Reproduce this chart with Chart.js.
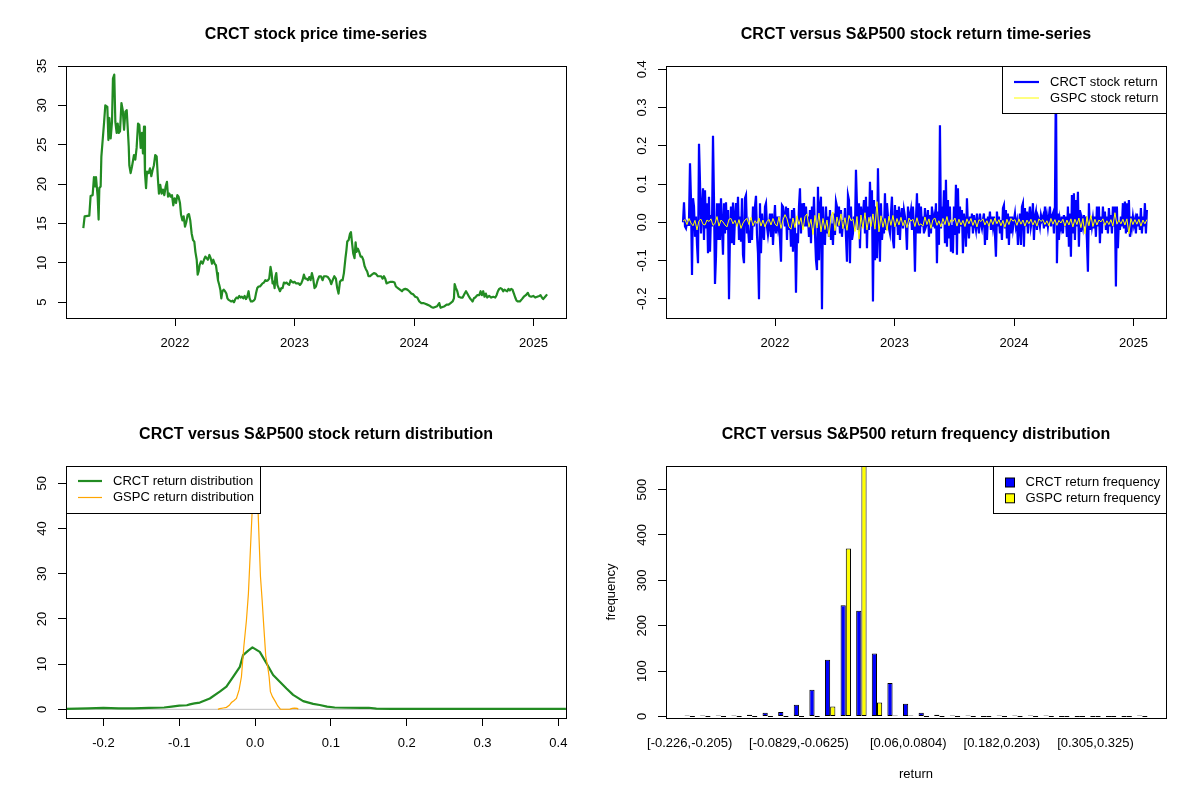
<!DOCTYPE html>
<html>
<head>
<meta charset="utf-8">
<title>CRCT versus S&amp;P500</title>
<script src="https://cdn.jsdelivr.net/npm/chart.js@4.4.1/dist/chart.umd.min.js"></script>
<style>
  html, body { margin: 0; padding: 0; background: #fff; }
  #wrap { position: relative; width: 1200px; height: 800px; background: #fff; }
  #wrap div { position: absolute; width: 600px; height: 400px; }
  canvas { display: block; }
</style>
</head>
<body>
<div id="wrap">
  <div style="left:0;top:0"><canvas id="priceChart" width="600" height="400"></canvas></div>
  <div style="left:600px;top:0"><canvas id="returnChart" width="600" height="400"></canvas></div>
  <div style="left:0;top:400px"><canvas id="densityChart" width="600" height="400"></canvas></div>
  <div style="left:600px;top:400px"><canvas id="freqChart" width="600" height="400"></canvas></div>
</div>
<script>
// ---- data ----

// CRCT closing price (decimal year, USD)
const priceYear = [2021.232,2021.243,2021.282,2021.293,2021.310,2021.321,2021.332,2021.338,2021.352,2021.360,
  2021.366,2021.377,2021.383,2021.394,2021.405,2021.416,2021.433,2021.442,2021.450,2021.461,
  2021.472,2021.480,2021.491,2021.500,2021.511,2021.520,2021.528,2021.539,2021.551,2021.562,
  2021.573,2021.584,2021.595,2021.603,2021.612,2021.617,2021.628,2021.639,2021.656,2021.667,
  2021.678,2021.690,2021.701,2021.712,2021.723,2021.731,2021.740,2021.748,2021.757,2021.765,
  2021.779,2021.790,2021.801,2021.812,2021.823,2021.834,2021.846,2021.857,2021.865,2021.876,
  2021.887,2021.898,2021.910,2021.921,2021.932,2021.941,2021.951,2021.963,2021.974,2021.985,
  2021.996,2022.008,2022.019,2022.029,2022.041,2022.050,2022.061,2022.072,2022.083,2022.094,
  2022.105,2022.116,2022.127,2022.139,2022.150,2022.161,2022.170,2022.181,2022.189,2022.197,
  2022.205,2022.217,2022.231,2022.242,2022.253,2022.264,2022.275,2022.287,2022.298,2022.309,
  2022.320,2022.331,2022.342,2022.351,2022.359,2022.370,2022.379,2022.387,2022.396,2022.407,
  2022.418,2022.429,2022.438,2022.448,2022.459,2022.470,2022.482,2022.493,2022.504,2022.515,
  2022.526,2022.537,2022.548,2022.559,2022.571,2022.582,2022.593,2022.604,2022.615,2022.624,
  2022.635,2022.646,2022.657,2022.668,2022.677,2022.688,2022.699,2022.710,2022.721,2022.732,
  2022.744,2022.755,2022.766,2022.777,2022.788,2022.799,2022.808,2022.816,2022.825,2022.833,
  2022.839,2022.847,2022.856,2022.867,2022.878,2022.889,2022.900,2022.911,2022.922,2022.933,
  2022.944,2022.955,2022.967,2022.978,2022.989,2023.000,2023.011,2023.022,2023.033,2023.045,
  2023.056,2023.067,2023.078,2023.089,2023.100,2023.112,2023.123,2023.134,2023.145,2023.156,
  2023.167,2023.179,2023.193,2023.207,2023.221,2023.235,2023.246,2023.263,2023.279,2023.296,
  2023.307,2023.319,2023.333,2023.346,2023.357,2023.368,2023.380,2023.391,2023.402,2023.413,
  2023.426,2023.434,2023.441,2023.453,2023.464,2023.472,2023.480,2023.491,2023.502,2023.511,
  2023.519,2023.530,2023.541,2023.553,2023.564,2023.575,2023.586,2023.597,2023.608,2023.619,
  2023.630,2023.647,2023.664,2023.681,2023.697,2023.708,2023.725,2023.737,2023.748,2023.759,
  2023.770,2023.787,2023.804,2023.820,2023.837,2023.848,2023.865,2023.882,2023.899,2023.910,
  2023.927,2023.944,2023.960,2023.977,2023.994,2024.010,2024.027,2024.044,2024.061,2024.077,
  2024.094,2024.111,2024.127,2024.144,2024.161,2024.177,2024.194,2024.211,2024.222,2024.239,
  2024.256,2024.273,2024.289,2024.306,2024.323,2024.334,2024.340,2024.351,2024.362,2024.373,
  2024.390,2024.407,2024.424,2024.435,2024.446,2024.457,2024.468,2024.479,2024.490,2024.501,
  2024.512,2024.529,2024.546,2024.557,2024.568,2024.579,2024.590,2024.601,2024.613,2024.629,
  2024.646,2024.663,2024.680,2024.691,2024.702,2024.713,2024.724,2024.735,2024.746,2024.757,
  2024.768,2024.780,2024.791,2024.802,2024.813,2024.824,2024.836,2024.847,2024.858,2024.869,
  2024.886,2024.903,2024.919,2024.936,2024.953,2024.964,2024.981,2024.998,2025.014,2025.031,
  2025.048,2025.059,2025.070,2025.081,2025.092,2025.103,2025.114];
const priceClose = [14.4,15.9,16.0,18.5,18.6,20.9,19.7,20.9,18.4,15.5,
  19.5,19.7,23.5,25.6,27.7,30.0,29.8,25.6,28.4,25.8,
  27.9,33.4,33.9,27.9,26.5,27.7,26.5,26.7,30.3,29.4,
  26.9,29.2,29.4,27.3,24.8,22.4,21.4,22.2,23.7,23.1,
  24.6,27.7,27.5,24.6,26.5,23.9,27.3,21.4,19.5,21.6,
  21.4,22.0,21.0,21.8,22.4,23.7,23.5,20.5,18.8,19.9,
  18.8,19.3,18.6,19.7,20.3,18.4,18.8,18.4,18.6,17.3,
  18.2,17.6,18.6,18.4,17.6,16.1,15.4,15.9,14.6,15.2,
  16.1,16.2,15.4,13.7,12.9,12.7,11.4,10.4,8.5,8.9,
  9.7,10.2,9.9,10.4,10.8,10.6,10.4,11.0,10.6,9.9,
  10.4,9.9,9.7,8.7,7.8,7.2,6.6,5.5,6.4,6.6,
  6.4,6.1,5.5,5.3,5.2,5.1,5.2,5.0,5.4,5.6,
  5.5,5.8,5.6,5.7,5.5,5.8,5.4,5.7,6.4,5.5,
  5.1,5.1,5.2,5.4,6.1,6.8,7.0,7.0,7.2,7.4,
  7.5,7.8,7.7,7.8,8.0,9.5,8.7,7.4,7.6,6.8,
  8.2,8.7,7.2,6.8,6.4,6.8,6.8,7.5,7.4,7.5,
  7.3,7.2,7.8,7.6,7.5,7.6,7.4,7.4,7.4,7.2,
  7.4,7.8,8.5,8.0,8.0,7.8,8.2,7.8,8.7,8.0,
  6.8,7.0,7.8,8.3,8.3,7.8,8.3,8.3,8.2,7.8,
  7.3,7.8,8.3,8.0,6.8,6.1,7.6,7.8,7.8,8.7,
  10.6,11.6,12.7,12.9,13.7,13.9,12.7,11.2,10.6,12.6,
  11.4,11.8,11.4,10.8,10.8,10.4,9.6,9.2,8.9,8.3,
  8.3,8.5,8.7,8.6,8.3,8.3,8.3,8.0,8.3,8.0,
  7.4,7.5,7.6,7.6,7.5,7.0,6.8,6.6,6.4,6.6,
  6.7,6.6,6.4,6.1,6.0,5.7,5.6,5.1,4.9,4.9,
  4.8,4.7,4.6,4.4,4.3,4.4,4.5,4.9,4.3,4.4,
  4.5,4.7,4.7,4.9,5.1,5.5,7.3,6.8,6.4,5.7,
  5.6,5.6,6.1,6.4,6.1,5.8,5.5,5.3,5.1,5.5,
  5.6,5.9,5.9,6.4,5.9,6.4,5.7,6.1,5.6,5.8,
  5.6,5.7,5.6,5.9,6.4,6.7,6.8,6.7,6.4,6.6,
  6.5,6.4,6.7,6.5,6.7,6.6,6.1,5.6,5.2,5.1,
  5.1,5.4,5.7,5.9,6.2,5.8,5.7,5.8,5.6,5.7,
  5.8,5.9,5.6,5.4,5.6,5.8,6.0];

// daily returns, sampled at a regular interval from the start date
const retStartYear = 2021.2293;
const crctStepYears = 0.0083682;
const gspcStepYears = 0.0167364;
const crctReturn = [0.000,0.052,-0.011,-0.016,-0.001,-0.007,0.006,0.154,0.058,-0.138,
  0.063,0.041,-0.038,0.015,-0.059,-0.107,0.205,0.106,-0.029,0.032,
  0.089,-0.046,0.084,-0.016,0.050,-0.081,0.067,-0.077,0.019,-0.011,
  0.226,0.058,-0.161,-0.090,0.050,-0.046,0.050,-0.046,0.063,-0.011,
  -0.085,0.050,-0.029,0.052,-0.020,0.032,-0.201,-0.029,0.041,-0.055,
  0.052,-0.059,0.015,0.050,-0.007,0.067,-0.046,0.015,-0.051,0.063,
  -0.085,-0.107,0.063,0.071,-0.029,-0.011,-0.051,-0.051,0.006,-0.046,
  0.041,-0.011,0.041,0.069,-0.033,-0.081,-0.201,0.050,-0.081,0.023,
  -0.029,-0.046,0.041,0.050,-0.011,-0.033,-0.011,0.023,-0.038,0.023,
  -0.059,-0.003,0.045,-0.029,0.015,-0.011,0.015,-0.046,-0.103,0.045,
  0.041,0.015,-0.011,0.041,-0.046,0.037,-0.020,0.010,-0.064,0.032,
  -0.077,0.037,-0.016,-0.184,-0.029,-0.055,0.041,0.089,-0.029,0.050,
  -0.011,0.050,-0.011,0.041,-0.011,0.015,-0.038,0.032,-0.055,0.041,
  -0.016,0.067,-0.029,-0.099,-0.125,0.093,-0.099,0.041,0.067,-0.227,
  0.041,-0.038,-0.059,0.041,-0.029,0.015,-0.038,0.032,-0.046,-0.003,
  -0.059,0.023,-0.033,0.054,0.041,-0.011,0.041,-0.029,0.032,-0.038,
  0.006,-0.016,0.037,-0.038,-0.103,0.071,0.058,-0.107,0.041,-0.046,
  -0.029,0.015,-0.016,0.137,0.045,-0.020,0.050,-0.068,0.041,-0.011,
  0.019,0.058,-0.029,0.067,-0.068,0.041,-0.020,0.106,0.015,0.084,
  -0.207,0.058,-0.099,0.041,-0.094,0.141,-0.011,-0.103,0.050,-0.046,
  -0.011,-0.029,0.076,-0.020,0.050,0.015,-0.016,-0.029,0.023,0.067,
  -0.046,-0.068,0.045,-0.011,0.032,-0.033,0.041,-0.046,0.015,0.037,
  -0.016,0.032,0.015,-0.011,-0.072,0.041,0.006,0.015,0.032,-0.020,
  0.041,-0.011,-0.129,
  0.006,0.076,-0.029,0.050,-0.029,0.041,-0.011,0.015,-0.029,0.037,
  -0.011,-0.003,0.032,-0.038,0.019,-0.029,0.041,-0.011,0.010,-0.016,
  0.050,-0.107,0.028,-0.059,0.254,-0.016,0.041,-0.003,0.084,-0.055,
  0.111,-0.064,0.058,-0.042,0.041,-0.077,-0.007,-0.081,0.041,-0.033,
  0.098,-0.085,0.089,-0.029,0.041,-0.011,0.032,-0.081,0.023,-0.003,
  -0.064,0.063,-0.011,-0.042,0.015,-0.011,0.023,-0.029,0.019,-0.003,
  -0.020,0.023,-0.007,-0.029,0.023,-0.003,-0.016,0.006,0.023,-0.059,
  0.010,-0.046,0.015,-0.007,0.028,-0.020,0.015,-0.011,0.015,-0.029,
  -0.090,0.028,-0.011,0.015,-0.029,0.006,-0.046,0.037,0.045,-0.016,
  0.032,-0.042,0.023,-0.059,0.015,-0.029,0.015,-0.016,0.006,0.023,
  -0.011,0.002,-0.059,-0.011,0.023,-0.059,0.041,0.050,-0.064,0.037,
  -0.011,0.028,-0.029,0.015,0.041,-0.011,0.006,0.050,-0.046,0.015,
  0.028,-0.020,0.015,0.006,-0.011,0.019,0.006,0.015,-0.016,0.041,
  -0.011,0.015,-0.011,0.015,0.041,-0.011,0.015,0.023,-0.029,0.041,
  0.386,-0.107,0.023,-0.046,0.006,-0.011,0.015,-0.029,0.019,-0.011,
  0.015,-0.038,0.041,-0.064,0.023,-0.090,0.071,-0.029,0.076,-0.046,
  0.058,-0.011,0.080,-0.064,0.032,-0.025,0.006,-0.011,0.019,-0.011,
  0.015,-0.046,-0.129,0.050,-0.020,0.015,-0.011,0.010,-0.016,0.015,
  -0.038,0.041,-0.011,0.041,-0.055,0.015,-0.029,0.041,-0.003,0.028,
  -0.020,0.015,-0.029,0.037,-0.011,0.019,-0.029,0.041,-0.011,0.041,
  -0.168,0.041,-0.068,0.006,-0.020,0.015,-0.011,0.050,-0.016,0.054,
  -0.029,0.050,-0.025,0.058,-0.038,0.015,-0.011,0.015,-0.007,0.006,
  -0.029,0.023,-0.011,0.015,-0.020,0.037,-0.029,0.015,-0.011,0.050,
  -0.029,0.032];
const gspcReturn = [0.003,0.007,-0.006,0.010,-0.002,-0.009,0.005,-0.020,0.004,0.008,
  -0.005,-0.007,0.006,0.002,0.009,-0.008,-0.003,0.015,-0.010,0.006,
  0.001,-0.007,-0.012,0.008,0.010,-0.004,0.005,-0.011,0.007,-0.016,
  -0.002,0.006,0.010,-0.006,0.013,-0.009,0.004,-0.003,0.011,-0.010,
  0.006,-0.012,0.002,0.008,-0.007,0.010,-0.004,
  -0.010,0.014,-0.016,0.006,0.020,0.009,-0.012,-0.018,0.011,-0.014,
  0.017,-0.006,0.012,-0.020,0.015,0.022,-0.013,0.008,-0.032,0.018,
  -0.015,0.024,-0.025,0.010,-0.019,0.006,-0.038,0.016,0.027,-0.022,
  0.014,-0.009,0.022,-0.017,0.012,-0.021,0.018,0.004,0.009,-0.024,
  0.015,-0.044,0.019,-0.016,0.025,-0.020,0.013,-0.011,0.022,-0.018,
  0.054,-0.025,0.017,-0.013,0.010,-0.022,0.016,-0.008,0.018,-0.012,
  0.010,-0.007,0.013,-0.009,0.006,-0.014,0.011,0.003,0.008,-0.011,
  0.012,-0.008,-0.004,-0.010,0.014,-0.006,0.009,-0.016,0.007,0.011,
  -0.008,0.004,-0.012,0.010,-0.006,0.015,-0.009,0.007,0.002,0.011,
  -0.010,0.008,-0.007,0.005,-0.011,0.009,-0.004,0.010,-0.008,0.006,
  -0.012,0.007,0.002,0.009,-0.007,0.004,-0.010,0.008,-0.006,0.011,
  -0.004,0.007,-0.009,0.005,-0.013,0.008,-0.006,0.010,0.003,0.007,
  -0.008,0.009,-0.005,0.006,-0.010,
  0.006,-0.004,0.008,-0.007,0.005,-0.010,0.009,0.002,0.007,-0.006,
  0.004,-0.009,0.010,-0.005,0.007,-0.008,0.005,-0.002,0.008,-0.010,
  0.006,-0.007,0.009,-0.012,0.008,-0.006,0.011,-0.014,0.010,-0.030,
  0.015,-0.009,0.018,-0.011,0.008,-0.007,0.006,0.001,0.009,-0.008,
  0.004,-0.006,0.007,-0.010,0.025,-0.005,0.006,-0.004,0.008,-0.007,
  0.009,-0.030,0.010,-0.006,0.007,-0.005,0.008,-0.010,0.006,-0.004,
  0.007];

// kernel density estimates of the returns
const crctDensX = [-0.249,-0.22,-0.20,-0.18,-0.16,-0.14,-0.12,-0.11,-0.10,-0.09,
  -0.0861,-0.08,-0.0729,-0.0597,-0.0466,-0.0378,-0.029,-0.0201,-0.0158,-0.009,
  -0.0035,0.0062,0.015,0.0238,0.0326,0.0414,0.0502,0.0634,0.0766,0.0853,
  0.095,0.105,0.12,0.14,0.15,0.16,0.18,0.22,0.26,0.30,0.34,0.38,0.41];
const crctDensY = [0.1,0.2,0.3,0.2,0.2,0.3,0.4,0.6,0.8,0.9,
  1.1,1.3,1.5,2.4,3.9,5.0,7.2,9.4,12.0,13.0,
  13.7,12.7,10.2,7.6,6.1,4.6,3.2,1.8,1.2,0.96,
  0.6,0.4,0.35,0.3,0.35,0.15,0.1,0.1,0.12,0.1,0.1,0.12,0.1];
const gspcDensX = [-0.049,-0.0466,-0.042,-0.0378,-0.034,-0.0312,-0.028,-0.0246,-0.0211,-0.018,
  -0.0149,-0.0114,-0.0088,-0.0062,-0.0044,-0.0025,0.0005,0.0035,0.0053,0.0071,
  0.0093,0.0115,0.0141,0.0167,0.0185,0.0202,0.0229,0.0268,0.0299,0.0334,
  0.040,0.046,0.049,0.052,0.0555,0.057];
const gspcDensY = [0.0,0.15,0.3,0.44,0.9,1.5,1.9,2.4,4.3,7.2,
  13.8,19.7,25.6,35.2,41.9,48.5,51.8,46.0,37.5,29.4,
  24.2,18.3,11.7,9.4,7.2,3.9,2.8,1.7,0.74,0.05,
  0.02,0.05,0.2,0.25,0.2,0.02];

// return frequency by bin
const binLabels = ['[-0.226,-0.205)','[-0.205,-0.185)','[-0.185,-0.165)','[-0.165,-0.144)','[-0.144,-0.124)',
  '[-0.124,-0.103)','[-0.103,-0.0829)','[-0.0829,-0.0625)','[-0.0625,-0.0421)','[-0.0421,-0.0217)',
  '[-0.0217,-0.00128)','[-0.00128,0.0191)','[0.0191,0.0395)','[0.0395,0.06)','[0.06,0.0804)',
  '[0.0804,0.101)','[0.101,0.121)','[0.121,0.142)','[0.142,0.162)','[0.162,0.182)',
  '[0.182,0.203)','[0.203,0.223)','[0.223,0.244)','[0.244,0.264)','[0.264,0.284)',
  '[0.284,0.305)','[0.305,0.325)','[0.325,0.346)','[0.346,0.366)','[0.366,0.387]'];
const shownBins = [0, 7, 14, 20, 26];
const crctFreq = [2,2,2,2,4,8,10,26,59,125,245,233,139,74,28,8,4,2,2,0,1,2,2,2,0,0,0,0,0,1];
const gspcFreq = [0,0,0,0,0,0,0,0,0,22,370,558,31,2,1,0,0,0,0,0,0,0,0,0,0,0,0,0,0,0];

// tick values
const yearTicks = [2022, 2023, 2024, 2025];
const priceTicks = [5, 10, 15, 20, 25, 30, 35];
const returnTicks = [-0.2, -0.1, 0, 0.1, 0.2, 0.3, 0.4];
const densXTicks = [-0.2, -0.1, 0, 0.1, 0.2, 0.3, 0.4];
const densYTicks = [0, 10, 20, 30, 40, 50];
const freqTicks = [0, 100, 200, 300, 400, 500];

// ---- look of base R graphics ----
const FONT = '"Liberation Sans", Arial, Helvetica, sans-serif';
Chart.defaults.font.family = FONT;
Chart.defaults.font.size = 13;
Chart.defaults.color = '#000';
Chart.defaults.animation = false;
Chart.defaults.events = [];

function pts(xs, ys) {
  return xs.map((x, i) => ({ x: x, y: ys[i] }));
}
function series(start, step, ys) {
  return ys.map((y, i) => ({ x: start + i * step, y: y }));
}

function xAxis(min, max, ticks, label) {
  return {
    type: 'linear', min: min, max: max, offset: false,
    afterBuildTicks: s => { s.ticks = ticks.map(v => ({ value: v })); },
    afterFit: s => { s.height = 82; },
    grid: { drawOnChartArea: false, drawTicks: true, tickLength: 8, color: '#000', offset: false },
    border: { display: false },
    ticks: { padding: 9.5, autoSkip: false, maxRotation: 0, callback: label }
  };
}
function yAxis(min, max, ticks) {
  return {
    type: 'linear', min: min, max: max,
    afterBuildTicks: s => { s.ticks = ticks.map(v => ({ value: v })); },
    afterFit: s => { s.width = 66; },
    grid: { drawOnChartArea: false, drawTicks: true, tickLength: 8, color: '#000' },
    border: { display: false },
    ticks: { display: false }
  };
}
function baseOptions(title, x, y) {
  return {
    responsive: false,
    layout: { padding: { left: 0, right: 34, top: 25, bottom: 0 } },
    plugins: {
      legend: { display: false },
      tooltip: { enabled: false },
      title: {
        display: true, text: title, fullSize: false, color: '#000',
        font: { size: 16, weight: 'bold' }, padding: { top: 0, bottom: 21.8 }
      }
    },
    scales: { x: x, y: y }
  };
}

// box round the plot, y labels turned like las = 0, optional legend
function rFrame(decimals, legend) {
  return {
    id: 'rFrame',
    afterDraw(chart) {
      const ctx = chart.ctx, a = chart.chartArea, ys = chart.scales.y;
      ctx.save();
      ctx.font = '13px ' + FONT;
      ctx.fillStyle = '#000';
      ctx.textAlign = 'center';
      ctx.textBaseline = 'middle';
      ys.ticks.forEach(t => {
        ctx.save();
        ctx.translate(42, ys.getPixelForValue(t.value));
        ctx.rotate(-Math.PI / 2);
        ctx.fillText(t.value.toFixed(decimals), 0, 0);
        ctx.restore();
      });
      if (legend) {
        const b = legend.box;
        ctx.fillStyle = '#fff';
        ctx.fillRect(b[0], b[1], b[2], b[3]);
        ctx.strokeStyle = '#000';
        ctx.lineWidth = 1;
        ctx.strokeRect(b[0] + 0.5, b[1] + 0.5, b[2], b[3]);
        legend.items.forEach((idx, i) => {
          const ds = chart.data.datasets[idx];
          const yy = legend.rows[i];
          if (legend.swatch === 'line') {
            ctx.strokeStyle = ds.borderColor;
            ctx.lineWidth = ds.borderWidth;
            ctx.beginPath();
            ctx.moveTo(legend.x0, yy);
            ctx.lineTo(legend.x1, yy);
            ctx.stroke();
          } else {
            ctx.fillStyle = ds.backgroundColor;
            ctx.fillRect(legend.x0, yy - 4.5, 9, 9);
            ctx.strokeStyle = '#000';
            ctx.lineWidth = 1;
            ctx.strokeRect(legend.x0 + 0.5, yy - 4.5, 9, 9);
          }
          ctx.fillStyle = '#000';
          ctx.textAlign = 'left';
          ctx.fillText(ds.label, legend.tx, yy);
        });
      }
      ctx.strokeStyle = '#000';
      ctx.lineWidth = 1;
      ctx.strokeRect(a.left + 0.5, a.top + 0.5, a.right - a.left, a.bottom - a.top);
      ctx.restore();
    }
  };
}

// ---- top left: price ----
var ctx1 = document.getElementById('priceChart').getContext('2d');
new Chart(ctx1, {
  type: 'line',
  data: {
    datasets: [{
      label: 'CRCT price',
      data: pts(priceYear, priceClose),
      borderColor: '#228B22', borderWidth: 2.2, pointRadius: 0,
      borderJoinStyle: 'round', tension: 0
    }]
  },
  options: baseOptions('CRCT stock price time-series',
    xAxis(2021.087, 2025.272, yearTicks, v => String(v)),
    yAxis(3.0, 35.0, priceTicks)),
  plugins: [rFrame(0, null)]
});

// ---- top right: returns ----
var ctx2 = document.getElementById('returnChart').getContext('2d');
new Chart(ctx2, {
  type: 'line',
  data: {
    datasets: [{
      label: 'GSPC stock return',
      data: series(retStartYear, gspcStepYears, gspcReturn),
      borderColor: '#FFFF00', borderWidth: 1, pointRadius: 0, tension: 0
    }, {
      label: 'CRCT stock return',
      data: series(retStartYear, crctStepYears, crctReturn),
      borderColor: '#0000FF', borderWidth: 2.2, pointRadius: 0, tension: 0
    }]
  },
  options: baseOptions('CRCT versus S&P500 stock return time-series',
    xAxis(2021.087, 2025.272, yearTicks, v => String(v)),
    yAxis(-0.2502, 0.4086, returnTicks)),
  plugins: [rFrame(1, { box: [402, 66, 164, 47], rows: [82, 98], items: [1, 0], swatch: 'line', x0: 414, x1: 439, tx: 450 })]
});

// ---- bottom left: density ----
var ctx3 = document.getElementById('densityChart').getContext('2d');
new Chart(ctx3, {
  type: 'line',
  data: {
    datasets: [{
      label: 'GSPC return distribution',
      data: pts(gspcDensX, gspcDensY),
      borderColor: '#FFA500', borderWidth: 1.2, pointRadius: 0, tension: 0
    }, {
      label: 'CRCT return distribution',
      data: pts(crctDensX, crctDensY),
      borderColor: '#228B22', borderWidth: 2.2, pointRadius: 0, tension: 0, borderJoinStyle: 'round'
    }, {
      label: 'zero',
      data: [{ x: -0.2494, y: 0 }, { x: 0.4101, y: 0 }],
      borderColor: '#BEBEBE', borderWidth: 1, pointRadius: 0
    }]
  },
  options: baseOptions('CRCT versus S&P500 stock return distribution',
    xAxis(-0.2494, 0.4101, densXTicks, v => v.toFixed(1)),
    yAxis(-1.92, 53.83, densYTicks)),
  plugins: [rFrame(0, { box: [66, 66, 194, 47], rows: [81, 97.5], items: [1, 0], swatch: 'line', x0: 78, x1: 102, tx: 113 })]
});

// ---- bottom right: frequency bars ----
const freqX = xAxis(-1.52, 30.52, shownBins, v => binLabels[v]);
freqX.grid = { display: false, drawTicks: false };
freqX.ticks.padding = 17.2;
freqX.title = { display: true, text: 'return', font: { size: 13 }, padding: { top: 0, bottom: 18.2 } };
const freqY = yAxis(-3.3, 552, freqTicks);
freqY.title = { display: true, text: 'frequency', font: { size: 13 }, padding: { top: 4, bottom: 0 } };

var ctx4 = document.getElementById('freqChart').getContext('2d');
new Chart(ctx4, {
  type: 'bar',
  data: {
    datasets: [{
      label: 'CRCT return frequency',
      data: crctFreq.map((v, i) => ({ x: i, y: v })),
      backgroundColor: '#0000FF', borderColor: '#000', borderWidth: 1, borderSkipped: false,
      categoryPercentage: 2 / 3, barPercentage: 1, minBarLength: 1, clip: 0
    }, {
      label: 'GSPC return frequency',
      data: gspcFreq.map((v, i) => ({ x: i, y: v })),
      backgroundColor: '#FFFF00', borderColor: '#000', borderWidth: 1, borderSkipped: false,
      categoryPercentage: 2 / 3, barPercentage: 1, minBarLength: 1, clip: 0
    }]
  },
  options: baseOptions('CRCT versus S&P500 return frequency distribution', freqX, freqY),
  plugins: [rFrame(0, { box: [393, 66, 173, 47], rows: [82.5, 98.3], items: [0, 1], swatch: 'box', x0: 405, tx: 425.5 })]
});
</script>
</body>
</html>
